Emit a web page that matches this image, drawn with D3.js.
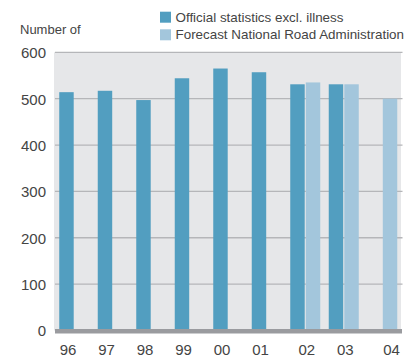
<!DOCTYPE html>
<html><head><meta charset="utf-8">
<script src="https://cdn.jsdelivr.net/npm/d3@7"></script>
<style>body{margin:0;background:#fff}svg{display:block}text{font-family:"Liberation Sans",Arial,sans-serif}</style>
</head><body><svg id="c" width="416" height="357"></svg>
<script>
const categories = ["96","97","98","99","00","01","02","03","04"];
const seriesNames = ["Official statistics excl. illness","Forecast National Road Administration"];
const official = [514, 517, 497, 544, 565, 557, 531, 531, null];
const forecast = [null, null, null, null, null, null, 535, 531, 500];
const yTicks = [0, 100, 200, 300, 400, 500, 600];
const colors = ["#529ec0", "#a3c6dc"];

const svg = d3.select("#c");
const pL = 55, pR = 401.5, pT = 52.3, pB = 330.5;
const x0 = d3.scaleBand().domain(categories).range([pL, pR]);
const x1 = d3.scaleBand().domain(seriesNames).range([0, 30]).paddingInner(0.07);
const y = d3.scaleLinear().domain([0, 600]).range([pB, pT]);

svg.append("rect").attr("x", pL - 1).attr("y", pT).attr("width", pR - pL + 0.5).attr("height", pB - pT).attr("fill", "#e6e7e9");

const yAxis = d3.axisLeft(y).tickValues(yTicks).tickSize(0).tickPadding(9);
const gy = svg.append("g").attr("transform", `translate(${pL},0)`).call(yAxis);
gy.select(".domain").remove();
gy.selectAll("text").attr("font-size", "15px").attr("fill", "#444").attr("dy", "0.36em");

svg.append("g").selectAll("line").data(yTicks.filter(d => d > 0)).join("line")
  .attr("x1", pL).attr("x2", pR + 1).attr("y1", d => y(d)).attr("y2", d => y(d))
  .attr("stroke", "#b5b6b9").attr("stroke-width", 1.3);

const data = [official, forecast];
const off = (x0.bandwidth() - 30) / 2;
data.forEach((vals, si) => {
  svg.append("g").selectAll("rect").data(categories.map((c, i) => ({c, v: vals[i]})).filter(d => d.v != null)).join("rect")
    .attr("x", d => x0(d.c) + off + x1(seriesNames[si]))
    .attr("width", x1.bandwidth())
    .attr("y", d => y(d.v))
    .attr("height", d => y(0) - y(d.v))
    .attr("fill", colors[si]);
});

svg.append("rect").attr("x", pL).attr("y", y(0) - 1.5).attr("width", pR - pL + 0.5).attr("height", 4.5).attr("fill", "#9a9b9f");

// x labels centered on drawn bars
svg.append("g").selectAll("text").data(categories).join("text")
  .attr("x", (c, i) => {
    const cs = [];
    data.forEach((vals, si) => { if (vals[i] != null) cs.push(x0(c) + off + x1(seriesNames[si]) + x1.bandwidth() / 2); });
    return d3.mean(cs) + 1.5;
  })
  .attr("y", 355).attr("text-anchor", "middle").attr("font-size", "15px").attr("fill", "#444").text(d => d);

svg.append("text").attr("x", 20).attr("y", 33.5).attr("font-size", "13px").attr("fill", "#444").text("Number of");

const lg = svg.append("g");
seriesNames.forEach((n, i) => {
  lg.append("rect").attr("x", 160).attr("y", 11.7 + i * 17.6).attr("width", 11).attr("height", 11).attr("fill", colors[i]);
  lg.append("text").attr("x", 175.5).attr("y", 21.8 + i * 17.6).attr("font-size", "13.4px").attr("fill", "#444").text(n);
});
</script></body></html>
